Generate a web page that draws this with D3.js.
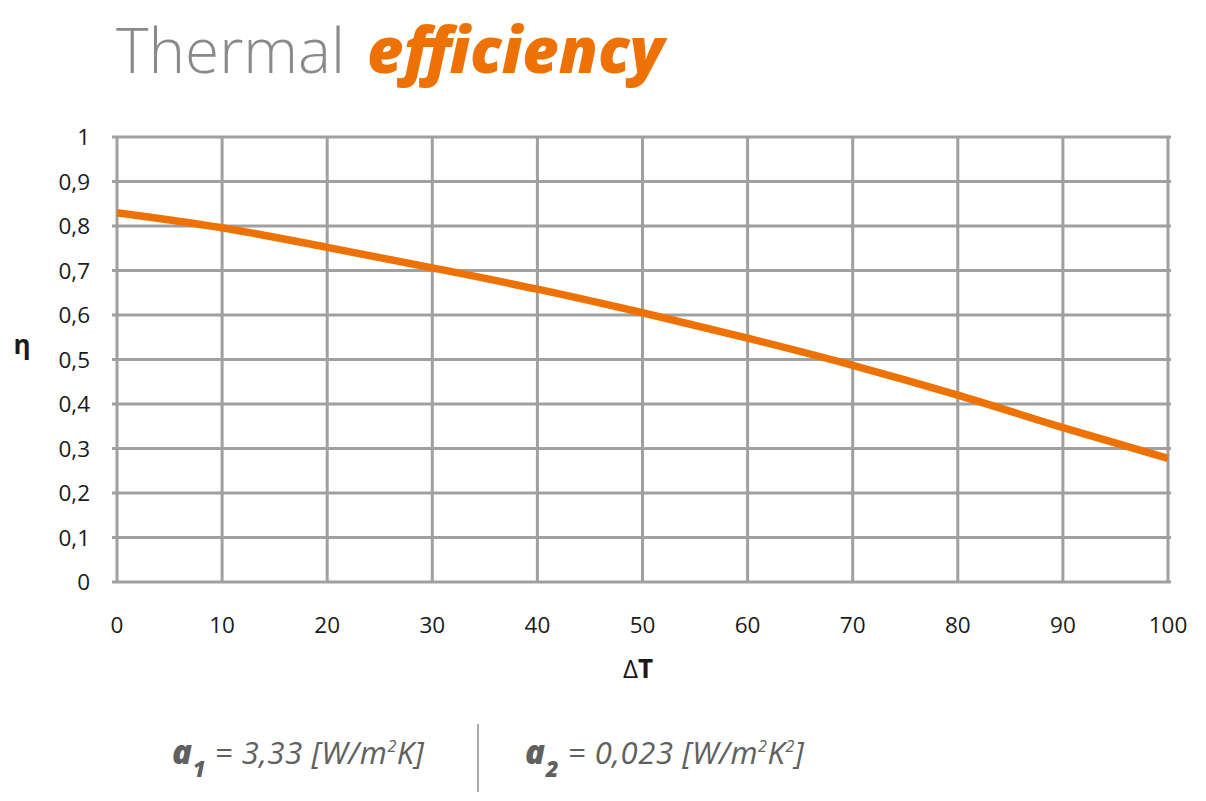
<!DOCTYPE html>
<html lang="en">
<head>
<meta charset="UTF-8">
<title>Thermal efficiency</title>
<script src="https://d3js.org/d3.v7.min.js"></script>
<style>
  body { margin: 0; background: #fff; font-family: 'Open Sans', sans-serif; }
  .grid line { stroke: #a0a0a0; stroke-width: 3px; }
  .tick-label { font-size: 22.5px; fill: #1a1a1a; }
</style>
</head>
<body>
<div id="chart"></div>
<script>
// values
const deltaT = [0, 10, 20, 30, 40, 50, 60, 70, 80, 90, 100];
const eta = [0.83, 0.796, 0.752, 0.706, 0.658, 0.605, 0.548, 0.487, 0.42, 0.347, 0.278];
const xTicks = [0, 10, 20, 30, 40, 50, 60, 70, 80, 90, 100];
const yTicks = [0, 0.1, 0.2, 0.3, 0.4, 0.5, 0.6, 0.7, 0.8, 0.9, 1];

const W = 1206, H = 801;
const margin = {top: 137, right: 38, bottom: 219, left: 117};
const width = W - margin.left - margin.right,
      height = H - margin.top - margin.bottom;

const svg = d3.select("#chart").append("svg")
    .attr("width", W).attr("height", H);

// title
svg.append("text")
    .attr("x", 116).attr("y", 73)
    .style("font-size", "62px").style("fill", "#8a8a8a").style("font-weight", 300)
    .text("Thermal");
svg.append("text")
    .attr("x", 367).attr("y", 73)
    .style("font-size", "63px").style("fill", "#ee7203")
    .style("font-weight", 800).style("font-style", "italic")
    .text("efficiency");

const g = svg.append("g")
    .attr("transform", `translate(${margin.left},${margin.top})`);

const x = d3.scaleLinear().domain([0, 100]).range([0, width]);
const y = d3.scaleLinear().domain([0, 1]).range([height, 0]);

const grid = g.append("g").attr("class", "grid");
grid.selectAll(".h").data(yTicks).enter().append("line")
    .attr("x1", -5).attr("x2", width + 3)
    .attr("y1", d => y(d)).attr("y2", d => y(d));
grid.selectAll(".v").data(xTicks).enter().append("line")
    .attr("x1", d => x(d)).attr("x2", d => x(d))
    .attr("y1", 0).attr("y2", height);

const fmt = d => String(d3.format(".1~f")(d)).replace(".", ",");

g.selectAll(".ylab").data(yTicks).enter().append("text")
    .attr("class", "tick-label")
    .attr("x", -27).attr("y", d => y(d) + 8)
    .attr("text-anchor", "end")
    .text(fmt);

g.selectAll(".xlab").data(xTicks).enter().append("text")
    .attr("class", "tick-label")
    .attr("x", d => x(d)).attr("y", height + 51)
    .attr("text-anchor", "middle")
    .text(d => d);

// axis titles
svg.append("text").attr("x", 22).attr("y", 354)
    .attr("text-anchor", "middle")
    .style("font-size", "26px").style("font-weight", 700).style("fill", "#1a1a1a")
    .text("η");
svg.append("text").attr("x", 638).attr("y", 678)
    .attr("text-anchor", "middle")
    .style("font-size", "26px").style("fill", "#1a1a1a")
    .html('<tspan>Δ</tspan><tspan font-weight="700">T</tspan>');

// curve
const line = d3.line()
    .x((d, i) => x(deltaT[i]))
    .y(d => y(d))
    .curve(d3.curveMonotoneX);
g.append("path").datum(eta)
    .attr("d", line)
    .attr("fill", "none")
    .attr("stroke", "#ee7203")
    .attr("stroke-width", 7.5);

// coefficients
const coef = svg.append("g")
    .style("font-size", "31px").style("font-style", "italic").style("fill", "#606060")
    .style("font-weight", 400).style("letter-spacing", "0.6px");
const t1 = coef.append("text").attr("x", 172).attr("y", 764);
t1.append("tspan").text("a").style("font-weight", 800).style("font-size", "33px");
t1.append("tspan").text("1").attr("dy", 13).style("font-weight", 800).style("font-size", "22px");
t1.append("tspan").text(" = 3,33 [W/m").attr("dy", -13);
t1.append("tspan").text("2").attr("dy", -12).style("font-size", "16px");
t1.append("tspan").text("K]").attr("dy", 12);

svg.append("line")
    .attr("x1", 478).attr("x2", 478).attr("y1", 724).attr("y2", 792)
    .attr("stroke", "#555").attr("stroke-width", 1);

const t2 = coef.append("text").attr("x", 525).attr("y", 764);
t2.append("tspan").text("a").style("font-weight", 800).style("font-size", "33px");
t2.append("tspan").text("2").attr("dy", 13).style("font-weight", 800).style("font-size", "22px");
t2.append("tspan").text(" = 0,023 [W/m").attr("dy", -13);
t2.append("tspan").text("2").attr("dy", -12).style("font-size", "16px");
t2.append("tspan").text("K").attr("dy", 12);
t2.append("tspan").text("2").attr("dy", -12).style("font-size", "16px");
t2.append("tspan").text("]").attr("dy", 12);
</script>
</body>
</html>
